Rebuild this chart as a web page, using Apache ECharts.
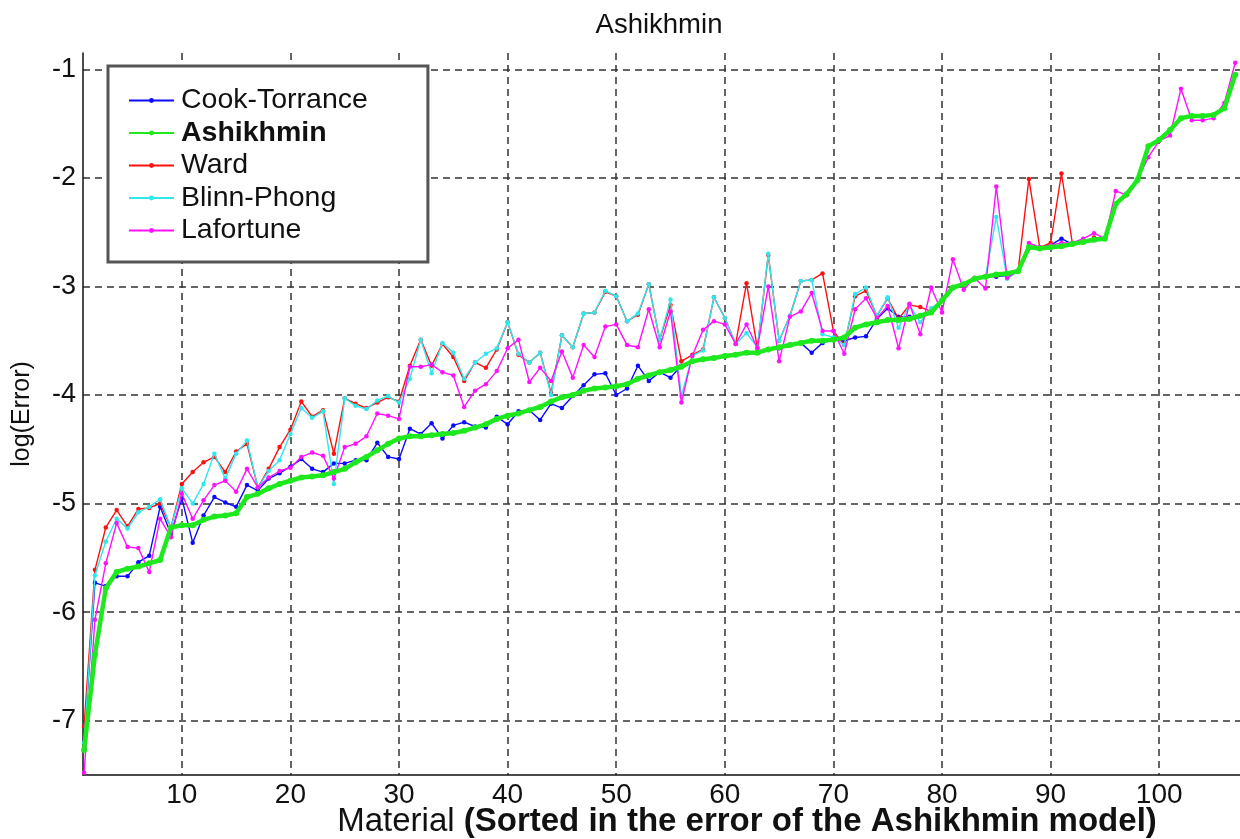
<!DOCTYPE html>
<html>
<head>
<meta charset="utf-8">
<script src="https://cdn.jsdelivr.net/npm/echarts@6/dist/echarts.min.js"></script>
<style>
html,body{margin:0;padding:0;background:#fff;}
#chart{width:1240px;height:839px;}
</style>
</head>
<body>
<div id="chart"></div>
<script>
const FONT = "'Liberation Sans', Arial, Helvetica, sans-serif";
const xTicks = [10, 20, 30, 40, 50, 60, 70, 80, 90, 100];
const yTicks = [-7, -6, -5, -4, -3, -2, -1];
const seriesNames = ['Cook-Torrance', 'Ashikhmin', 'Ward', 'Blinn-Phong', 'Lafortune'];
const materials = Array.from({length: 107}, (_, i) => i + 1);

const ashikhmin = [
-7.27,-6.39,-5.78,-5.63,-5.60,-5.58,-5.55,-5.52,-5.22,-5.20,
-5.20,-5.15,-5.12,-5.11,-5.09,-4.94,-4.91,-4.86,-4.82,-4.79,
-4.76,-4.75,-4.74,-4.71,-4.68,-4.62,-4.57,-4.51,-4.45,-4.40,
-4.38,-4.38,-4.37,-4.36,-4.35,-4.33,-4.30,-4.27,-4.22,-4.19,
-4.17,-4.14,-4.11,-4.06,-4.02,-4.00,-3.96,-3.94,-3.93,-3.92,
-3.90,-3.85,-3.82,-3.79,-3.77,-3.74,-3.69,-3.67,-3.66,-3.64,
-3.63,-3.61,-3.61,-3.58,-3.56,-3.54,-3.52,-3.50,-3.50,-3.49,
-3.47,-3.38,-3.35,-3.33,-3.31,-3.31,-3.30,-3.27,-3.24,-3.13,
-3.01,-2.98,-2.93,-2.91,-2.89,-2.88,-2.86,-2.64,-2.65,-2.64,
-2.63,-2.61,-2.59,-2.57,-2.56,-2.24,-2.15,-2.02,-1.71,-1.65,
-1.56,-1.45,-1.43,-1.43,-1.42,-1.36,-1.05
];
const cookTorrance = [
-7.20,-5.73,-5.76,-5.67,-5.67,-5.54,-5.48,-5.03,-5.28,-4.95,
-5.36,-5.11,-4.94,-4.99,-5.03,-4.83,-4.88,-4.77,-4.72,-4.66,
-4.59,-4.68,-4.71,-4.63,-4.63,-4.60,-4.60,-4.44,-4.57,-4.59,
-4.31,-4.36,-4.26,-4.40,-4.28,-4.25,-4.29,-4.30,-4.20,-4.27,
-4.15,-4.14,-4.23,-4.08,-4.12,-4.01,-3.91,-3.81,-3.80,-4.00,
-3.94,-3.73,-3.87,-3.79,-3.84,-3.73,-3.69,-3.67,-3.66,-3.64,
-3.63,-3.61,-3.61,-3.58,-3.57,-3.54,-3.52,-3.61,-3.52,-3.49,
-3.50,-3.47,-3.46,-3.30,-3.20,-3.28,-3.28,-3.27,-3.24,-3.13,
-3.01,-2.98,-2.93,-2.91,-2.91,-2.90,-2.86,-2.64,-2.64,-2.62,
-2.56,-2.61,-2.59,-2.57,-2.56,-2.24,-2.15,-2.02,-1.71,-1.65,
-1.56,-1.45,-1.43,-1.43,-1.42,-1.36,-1.05
];
const ward = [
-7.05,-5.61,-5.22,-5.06,-5.21,-5.05,-5.04,-5.00,-5.22,-4.82,
-4.71,-4.62,-4.57,-4.71,-4.52,-4.45,-4.85,-4.68,-4.48,-4.32,
-4.06,-4.20,-4.14,-4.54,-4.03,-4.08,-4.12,-4.07,-4.02,-4.06,
-3.73,-3.49,-3.73,-3.53,-3.65,-3.87,-3.70,-3.75,-3.58,-3.33,
-3.63,-3.70,-3.61,-3.98,-3.45,-3.56,-3.25,-3.24,-3.05,-3.09,
-3.32,-3.26,-2.98,-3.49,-3.17,-3.69,-3.63,-3.58,-3.10,-3.29,
-3.53,-2.97,-3.57,-2.71,-3.50,-3.27,-2.95,-2.94,-2.88,-3.41,
-3.54,-3.09,-3.04,-3.27,-3.11,-3.30,-3.17,-3.19,-3.23,-3.13,
-3.01,-2.98,-2.93,-2.91,-2.90,-2.89,-2.86,-2.01,-2.64,-2.60,
-1.96,-2.60,-2.59,-2.55,-2.56,-2.24,-2.15,-2.02,-1.71,-1.65,
-1.56,-1.45,-1.43,-1.43,-1.42,-1.36,-1.05
];
const blinnPhong = [
-7.20,-5.66,-5.35,-5.14,-5.23,-5.08,-5.03,-4.96,-5.22,-4.86,
-5.00,-4.82,-4.54,-4.77,-4.54,-4.42,-4.85,-4.70,-4.60,-4.36,
-4.12,-4.21,-4.15,-4.82,-4.03,-4.10,-4.13,-4.05,-4.01,-4.07,
-3.85,-3.49,-3.80,-3.52,-3.61,-3.85,-3.70,-3.62,-3.57,-3.33,
-3.62,-3.70,-3.61,-4.00,-3.45,-3.56,-3.25,-3.24,-3.04,-3.09,
-3.32,-3.25,-2.98,-3.49,-3.12,-4.01,-3.64,-3.59,-3.10,-3.29,
-3.53,-3.43,-3.56,-2.70,-3.50,-3.27,-2.95,-2.94,-3.44,-3.47,
-3.54,-3.07,-3.01,-3.27,-3.10,-3.38,-3.17,-3.33,-3.20,-3.13,
-3.01,-2.98,-2.93,-2.91,-2.36,-2.93,-2.86,-2.64,-2.65,-2.64,
-2.63,-2.61,-2.59,-2.57,-2.56,-2.24,-2.15,-2.02,-1.71,-1.65,
-1.56,-1.45,-1.43,-1.43,-1.42,-1.36,-1.05
];
const lafortune = [
-7.48,-6.07,-5.55,-5.18,-5.40,-5.41,-5.63,-5.14,-5.31,-4.91,
-5.14,-4.97,-4.83,-4.79,-4.89,-4.68,-4.85,-4.76,-4.70,-4.67,
-4.57,-4.53,-4.56,-4.77,-4.48,-4.45,-4.38,-4.17,-4.19,-4.22,
-3.74,-3.74,-3.72,-3.79,-3.82,-4.11,-3.96,-3.90,-3.78,-3.57,
-3.49,-3.88,-3.75,-3.87,-3.60,-3.84,-3.54,-3.65,-3.37,-3.35,
-3.54,-3.56,-3.21,-3.56,-3.23,-4.07,-3.64,-3.40,-3.32,-3.35,
-3.53,-3.35,-3.57,-3.00,-3.69,-3.28,-3.23,-3.06,-3.41,-3.41,
-3.62,-3.21,-3.11,-3.29,-3.18,-3.57,-3.16,-3.44,-3.01,-3.24,
-2.75,-3.03,-2.92,-3.02,-2.08,-2.92,-2.86,-2.60,-2.64,-2.62,
-2.60,-2.60,-2.56,-2.51,-2.56,-2.12,-2.16,-2.02,-1.81,-1.66,
-1.61,-1.18,-1.47,-1.47,-1.45,-1.31,-0.94
];

function pts(vals) { return materials.map((m, i) => [m, vals[i]]); }
function thin(name, color, vals, z) {
  return {
    name: name, type: 'line', data: pts(vals), z: z,
    symbol: 'circle', symbolSize: 4.5, showSymbol: true,
    lineStyle: {color: color, width: 1.4},
    itemStyle: {color: color},
    emphasis: {disabled: true}
  };
}

const chart = echarts.init(document.getElementById('chart'), null, {renderer: 'canvas'});
chart.setOption({
  animation: false,
  backgroundColor: '#ffffff',
  textStyle: {fontFamily: FONT},
  title: [
    {text: 'Ashikhmin', left: 654, top: 6, textAlign: 'center',
     textStyle: {fontFamily: FONT, fontSize: 27.5, fontWeight: 'normal', color: '#111'}},
    {text: '{n|Material} {b|(Sorted in the error of the Ashikhmin model)}', left: 742, top: 800, textAlign: 'center',
     textStyle: {fontFamily: FONT, fontSize: 33, color: '#111',
       rich: {n: {fontFamily: FONT, fontSize: 33, fontWeight: 'normal', color: '#111'},
              b: {fontFamily: FONT, fontSize: 33, fontWeight: 'bold', color: '#111'}}}}
  ],
  legend: {
    data: seriesNames, orient: 'vertical', left: 108, top: 66,
    padding: [20, 60, 17, 20], itemWidth: 45, itemHeight: 6, itemGap: 3.5,
    backgroundColor: '#fff', borderColor: '#555', borderWidth: 3,
    selectedMode: false,
    formatter: function (n) { return n === 'Ashikhmin' ? '{b|' + n + '}' : '{r|' + n + '}'; },
    textStyle: {fontFamily: FONT, fontSize: 28.5, color: '#111', padding: [0, 0, 0, 2],
      rich: {r: {fontFamily: FONT, fontSize: 28.5, color: '#111', lineHeight: 28},
             b: {fontFamily: FONT, fontSize: 28.5, fontWeight: 'bold', color: '#111', lineHeight: 28}}}
  },
  grid: {left: 83, right: 0, top: 53, bottom: 64, containLabel: false},
  xAxis: {
    type: 'value', min: 0.9, max: 107.44,
    axisLine: {show: true, onZero: false, lineStyle: {color: '#111', width: 1.5}},
    axisTick: {show: false, customValues: xTicks},
    axisLabel: {customValues: xTicks, margin: 6, fontFamily: FONT, fontSize: 28, color: '#111'},
    splitLine: {show: true, lineStyle: {color: '#333', width: 1.5, type: [7, 5]}}
  },
  yAxis: {
    type: 'value', min: -7.5, max: -0.85,
    name: 'log(Error)', nameLocation: 'middle', nameGap: 48, nameRotate: 90,
    nameTextStyle: {fontFamily: FONT, fontSize: 25, color: '#111'},
    axisLine: {show: true, onZero: false, lineStyle: {color: '#111', width: 1.5}},
    axisTick: {show: false, customValues: yTicks},
    axisLabel: {customValues: yTicks, margin: 7, fontFamily: FONT, fontSize: 27, color: '#111'},
    splitLine: {show: true, lineStyle: {color: '#333', width: 1.5, type: [7, 5]}}
  },
  series: [
    thin('Cook-Torrance', '#0a0aff', cookTorrance, 2),
    thin('Ward', '#ff1010', ward, 3),
    thin('Blinn-Phong', '#2ee8ee', blinnPhong, 4),
    thin('Lafortune', '#ff10ff', lafortune, 5),
    {
      name: 'Ashikhmin', type: 'line', data: pts(ashikhmin), z: 6,
      symbol: 'circle', symbolSize: 6, showSymbol: true,
      lineStyle: {color: '#1ee81e', width: 4.5},
      itemStyle: {color: '#1ee81e'},
      emphasis: {disabled: true}
    }
  ]
});
</script>
</body>
</html>
